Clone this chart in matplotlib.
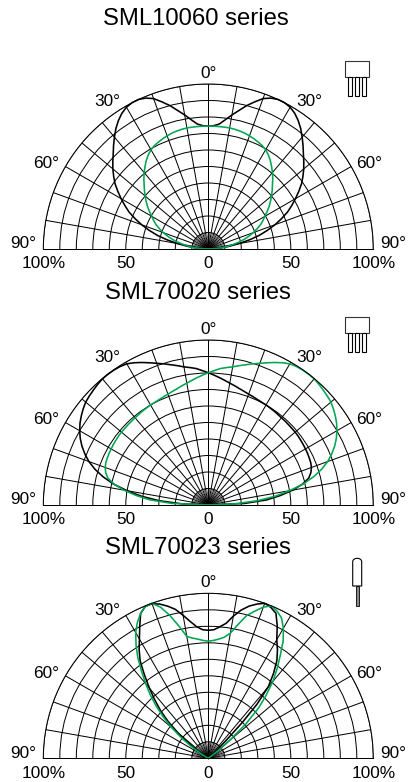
"""Angular intensity polar plots for three LED series."""

import matplotlib
matplotlib.use("Agg")
import matplotlib.pyplot as plt
import numpy as np
from matplotlib.patches import Rectangle

plt.rcParams["font.family"] = ["Liberation Sans", "DejaVu Sans"]

WIDTH, HEIGHT = 409, 782
GREEN = "#00a651"

TITLES = ["SML10060 series", "SML70020 series", "SML70023 series"]
RADIAL_TICKS = ["100%", "50", "0", "50", "100%"]
RADIAL_TICK_VALUES = [-100, -50, 0, 50, 100]
ANGLE_LABELS = ["90°", "60°", "30°", "0°", "30°", "60°", "90°"]

# half curves, read every 2.5 degrees from 0 to 90
A_BLACK_HALF = [74.5, 74.8, 76, 79, 82.5, 86, 90, 93.5, 97, 99, 100, 100, 99.2, 97.5, 95, 92, 88.5, 85, 81.5,
                78.5, 75.5, 72.3, 69, 65, 61, 57, 53, 48, 43, 37.5, 32, 25.5, 19, 13, 8, 3.5, 0]
A_GREEN_HALF = [74.5, 74.5, 74.5, 74.5, 74.5, 74.3, 74, 73.6, 73, 72.3, 71.5, 70.7, 69.5, 67.7, 65.5, 63, 60.5, 57.8, 55,
                52.5, 50, 47.5, 45, 42.3, 39.5, 37.3, 35, 32, 29, 25.8, 22.5, 18.8, 15, 11.5, 8, 4, 0]
B_LONG_HALF = [80.2, 81.5, 83, 84, 85, 86.5, 88, 89.7, 91.4, 93.3, 95.3, 97.2, 98.8, 99.5, 99.8, 99.9, 99.8, 99.2, 98.5,
               97.8, 97, 95.6, 94, 92.2, 90, 87.5, 84.5, 81, 77, 72, 66, 59, 50, 41, 30, 16, 0]
B_SHORT_HALF = [80.2, 78.8, 77.5, 76.2, 75, 74, 73, 72.2, 71.5, 71, 70.5, 70.2, 70, 69.7, 69.5, 69.2, 69, 68.9, 68.8,
                68.7, 68.7, 68.6, 68.4, 68.2, 68, 67.8, 67.5, 67.2, 66.5, 65.2, 63, 58.5, 52, 44, 35.5, 22, 0]
HALF_DEG = [i * 2.5 for i in range(37)]

# signed angle, negative is the left half
FULL_DEG = [-d for d in HALF_DEG[::-1]] + HALF_DEG[1:]
A_BLACK = A_BLACK_HALF[::-1] + A_BLACK_HALF[1:]
A_GREEN = A_GREEN_HALF[::-1] + A_GREEN_HALF[1:]
B_BLACK = B_LONG_HALF[::-1] + B_SHORT_HALF[1:]
B_GREEN = B_SHORT_HALF[::-1] + B_LONG_HALF[1:]

C_BLACK_DEG = [-70, -60, -57.5, -55, -52.5, -50, -47.5, -45, -42.5, -40, -37.5, -35, -32.5, -30, -27.5, -25, -22.5, -20,
               -17.5, -15, -12.5, -10, -7.5, -5, -2.5, 0, 2.5, 5, 7.5, 10, 12.5, 15, 17.5, 20, 22.5, 25, 27.5, 30,
               32.5, 35, 37.5, 40, 42, 43.5, 45, 46.5, 48, 60]
C_BLACK = [0, 1, 3, 8, 15, 24, 33, 41, 48, 55.5, 63.5, 72, 78, 83.5, 90, 97, 99.7, 99.7,
           98, 95.5, 92.5, 88, 83.6, 80, 78, 77.6, 78, 80, 82.5, 87.5, 92, 95.5, 98, 100, 99, 97, 90.5, 83,
           78, 72.5, 65, 56.6, 44, 30, 15, 6, 1, 0]
C_GREEN_DEG = [-70, -65, -60, -55, -52.5, -50, -47.5, -45, -42.5, -40, -37.5, -35, -32.5, -30, -27.5, -25, -22.5, -20,
               -17.5, -15, -12.5, -10, -7.5, -5, -2.5, 0, 2.5, 5, 7.5, 10, 12.5, 15, 17.5, 20, 22.5, 25, 27.5, 30,
               32.5, 35, 37.5, 40, 42.5, 45, 47.5, 50, 52, 54, 60]
C_GREEN = [0, 0.5, 4, 13, 21, 29, 37, 44.5, 52, 59, 66.5, 74.5, 81.5, 88, 93, 97, 99.5, 100,
           96, 89.5, 82, 75, 73.5, 72.5, 71.5, 71, 71.5, 72.5, 74, 77, 83, 89.5, 93.5, 97.5, 100, 98.5, 96, 91,
           84.5, 76, 68.5, 61, 52, 43, 31, 17, 8, 2, 0]

PANELS = [
    (TITLES[0], FULL_DEG, A_BLACK, FULL_DEG, A_GREEN),
    (TITLES[1], FULL_DEG, B_BLACK, FULL_DEG, B_GREEN),
    (TITLES[2], C_BLACK_DEG, C_BLACK, C_GREEN_DEG, C_GREEN),
]
BASELINES = [249, 505, 758.3]
TITLE_POS = [(196, 19), (197.5, 292.7), (197.5, 547.7)]
CENTER_X = 208.3
RADIUS = 165


def draw_polar(fig, base_y, black_deg, black, green_deg, green):
    # a half wedge sits in the middle of a square box
    ax = fig.add_axes([(CENTER_X - RADIUS) / WIDTH, (HEIGHT - base_y - RADIUS / 2) / HEIGHT,
                       2 * RADIUS / WIDTH, 2 * RADIUS / HEIGHT], projection="polar")
    ax.set_theta_zero_location("N")
    ax.set_theta_direction(-1)
    ax.set_thetamin(-90)
    ax.set_thetamax(90)
    ax.set_rlim(0, 100)
    ax.set_thetagrids(np.arange(-90, 91, 10))
    ax.set_rgrids(np.arange(10, 101, 10))
    ax.tick_params(labelleft=False, labelbottom=False, length=0)
    ax.grid(True, color="black", lw=0.72)
    for sp in ax.spines.values():
        sp.set_linewidth(0.72)
        sp.set_color("black")
    # the extra fan of spokes close to the centre
    for d in np.arange(-85, 90, 10):
        ax.plot(np.radians([d, d]), [0, 10], color="black", lw=0.4)
    for deg, val, col in ((black_deg, black, "black"), (green_deg, green, GREEN)):
        ax.plot(np.radians(deg), val, color=col, lw=1.15, clip_on=False, solid_joinstyle="round")
    return ax


def transistor_icon(ax, top):
    ax.add_patch(Rectangle((345, top), 24.3, 16, fc="white", ec="#333333", lw=0.8))
    for x in (348.4, 355.4, 362.4):
        ax.add_patch(Rectangle((x, top + 16), 3.2, 19, fc="white", ec="black", lw=0.8))


def led_icon(ax, top):
    t = np.linspace(np.pi, 2 * np.pi, 30)
    xs = np.r_[352.7, 357.2 + 4.5 * np.cos(t), 361.7, 352.7]
    ys = np.r_[top + 27.7, top + 3.4 + 3.4 * np.sin(t), top + 27.7, top + 27.7]
    ax.fill(xs, ys, fc="white", ec="black", lw=0.8)
    ax.add_patch(Rectangle((355.7, top + 27.7), 3, 20, fc="#888888", ec="black", lw=0.6))


def main():
    fig = plt.figure(figsize=(WIDTH / 100, HEIGHT / 100), dpi=100)

    for (title, bd, bv, gd, gv), base in zip(PANELS, BASELINES):
        draw_polar(fig, base, bd, bv, gd, gv)

    # overlay in pixel coordinates for labels and package sketches
    over = fig.add_axes([0, 0, 1, 1], facecolor="none")
    over.set_xlim(0, WIDTH)
    over.set_ylim(HEIGHT, 0)
    over.axis("off")

    label_x = [23, 46, 107, 208.5, 309.5, 369.5, 393.5]
    label_dy = [-5, -85, -148, -176, -148, -85, -5]
    for (title, *_), base, (tx, ty) in zip(PANELS, BASELINES, TITLE_POS):
        over.text(tx, ty, title, fontsize=17.2, ha="center", va="center")
        for txt, x, dy in zip(ANGLE_LABELS, label_x, label_dy):
            over.text(x, base + dy, txt, fontsize=12.4, ha="center", va="center")
        for txt, v in zip(RADIAL_TICKS, RADIAL_TICK_VALUES):
            xpos = CENTER_X + v * RADIUS / 100
            over.text(xpos, base + 15, txt, fontsize=12.4, ha="center", va="center")

    transistor_icon(over, 60.7)
    transistor_icon(over, 316.7)
    led_icon(over, 558.3)

    fig.savefig("out.png", dpi=100)
    plt.close(fig)


if __name__ == "__main__":
    main()
